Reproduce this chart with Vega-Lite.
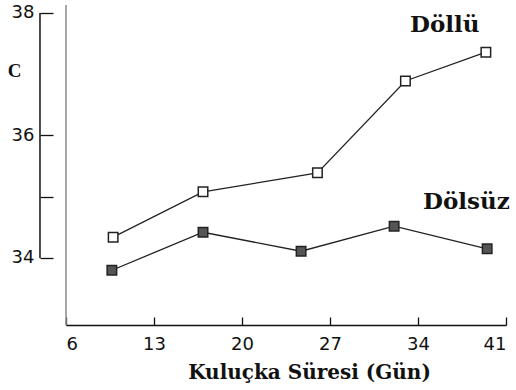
{
  "$schema": "https://vega.github.io/schema/vega-lite/v6.json",
  "width": 440,
  "height": 320,
  "autosize": "none",
  "padding": {"left": 66, "top": 5, "right": 10, "bottom": 65},
  "background": "white",
  "config": {"view": {"stroke": null}},
  "datasets": {
    "points": [
      {"gun": 9.75, "c": 34.34, "seri": "Döllü"},
      {"gun": 16.9, "c": 35.08, "seri": "Döllü"},
      {"gun": 26.0, "c": 35.39, "seri": "Döllü"},
      {"gun": 33.0, "c": 36.89, "seri": "Döllü"},
      {"gun": 39.4, "c": 37.36, "seri": "Döllü"},
      {"gun": 9.65, "c": 33.8, "seri": "Dölsüz"},
      {"gun": 16.9, "c": 34.42, "seri": "Dölsüz"},
      {"gun": 24.7, "c": 34.11, "seri": "Dölsüz"},
      {"gun": 32.1, "c": 34.52, "seri": "Dölsüz"},
      {"gun": 39.5, "c": 34.15, "seri": "Dölsüz"}
    ],
    "labels": [
      {"gun": 33.37, "c": 37.8, "text": "Döllü"},
      {"gun": 34.4, "c": 34.91, "text": "Dölsüz"}
    ]
  },
  "layer": [
    {
      "data": {"values": [{}]},
      "mark": {"type": "rule", "color": "#8a8a8a", "strokeWidth": 1.5},
      "encoding": {"x": {"datum": 6, "type": "quantitative"}}
    },
    {
      "data": {"values": [{}]},
      "mark": {"type": "rule", "color": "#111", "strokeWidth": 1.5, "clip": false},
      "encoding": {
        "x": {"datum": 3.93, "type": "quantitative"},
        "y": {"datum": 34, "type": "quantitative"},
        "y2": {"datum": 38}
      }
    },
    {
      "data": {"name": "points"},
      "mark": {"type": "line", "color": "#222", "strokeWidth": 1.3},
      "encoding": {
        "x": {
          "field": "gun", "type": "quantitative",
          "scale": {"domain": [6, 41], "nice": false, "zero": false},
          "axis": {
            "values": [6, 13, 20, 27, 34, 41],
            "title": "Kuluçka Süresi (Gün)",
            "titleFont": "DejaVu Serif",
            "titleFontSize": 20,
            "titleFontWeight": "bold",
            "titleColor": "#111",
            "titlePadding": 9,
            "titleX": 243,
            "labelFont": "DejaVu Sans",
            "labelFontSize": 18,
            "labelColor": "#111",
            "labelPadding": 18,
            "tickSize": -8,
            "tickColor": "#111",
            "tickWidth": 1.3,
            "domainColor": "#111",
            "domainWidth": 1.5,
            "grid": false
          }
        },
        "y": {
          "field": "c", "type": "quantitative",
          "scale": {"domain": [32.906, 38.13], "nice": false, "zero": false},
          "axis": {
            "values": [34, 35, 36, 38],
            "format": "d",
            "labelExpr": "datum.value == 35 ? '' : datum.label",
            "offset": 26,
            "domain": false,
            "tickSize": -13,
            "tickColor": "#111",
            "tickWidth": 1.3,
            "labelPadding": 19,
            "labelFont": "DejaVu Sans",
            "labelFontSize": 18,
            "labelColor": "#111",
            "title": "C",
            "titleAngle": 0,
            "titleFont": "Liberation Serif",
            "titleFontSize": 19,
            "titleFontWeight": "bold",
            "titleColor": "#111",
            "titleX": -26,
            "titleY": 65,
            "titleAlign": "center",
            "titleBaseline": "middle",
            "grid": false
          }
        },
        "detail": {"field": "seri"}
      }
    },
    {
      "data": {"name": "points"},
      "mark": {"type": "square", "size": 90, "strokeWidth": 1.5, "stroke": "#222", "opacity": 1},
      "encoding": {
        "x": {"field": "gun", "type": "quantitative"},
        "y": {"field": "c", "type": "quantitative"},
        "fill": {
          "field": "seri", "type": "nominal",
          "scale": {"domain": ["Döllü", "Dölsüz"], "range": ["white", "#555"]},
          "legend": null
        }
      }
    },
    {
      "data": {"name": "labels"},
      "mark": {"type": "text", "font": "DejaVu Serif", "fontSize": 23, "fontWeight": "bold", "color": "#111", "align": "left", "baseline": "middle", "clip": false},
      "encoding": {
        "x": {"field": "gun", "type": "quantitative"},
        "y": {"field": "c", "type": "quantitative"},
        "text": {"field": "text"}
      }
    }
  ]
}
